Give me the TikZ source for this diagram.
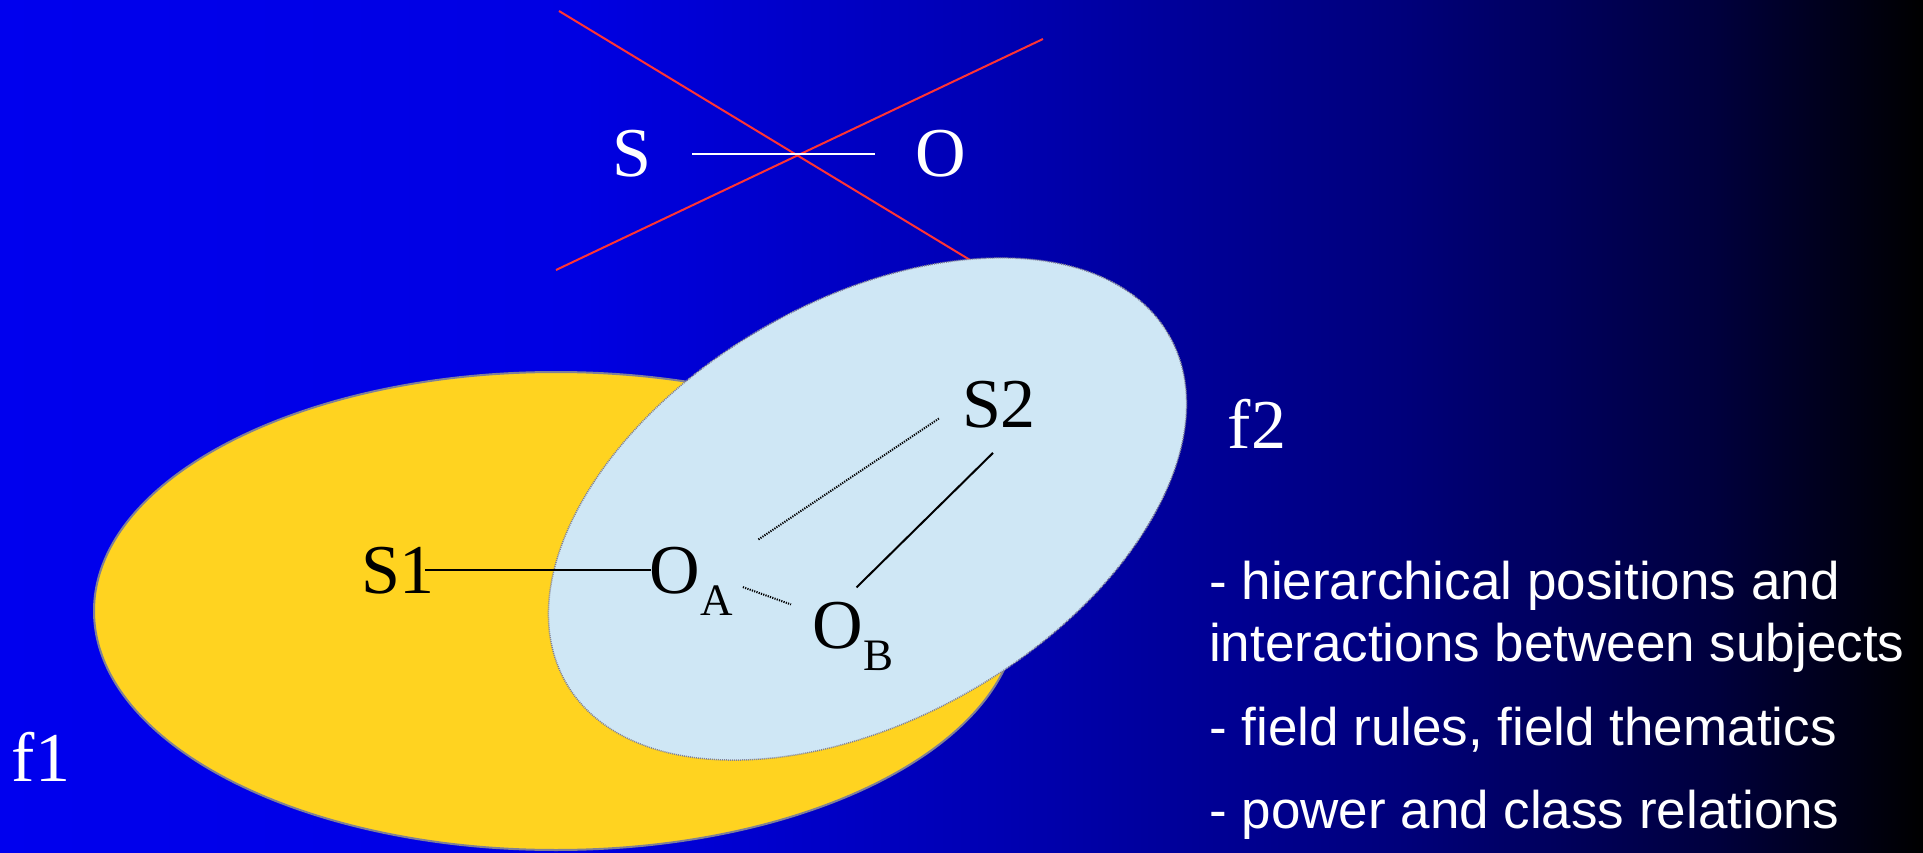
\documentclass[tikz,border=0pt]{standalone}
\usepackage{fontspec}
\setmainfont{Liberation Serif}
\newfontfamily\arialf{Liberation Sans}
\definecolor{bgA}{RGB}{0,0,238}
\definecolor{bgB}{RGB}{0,0,226}
\definecolor{bgC}{RGB}{0,0,178}
\definecolor{bgD}{RGB}{0,0,122}
\definecolor{bgE}{RGB}{0,0,62}
\definecolor{bgF}{RGB}{0,0,0}
\definecolor{fyellow}{RGB}{255,211,32}
\definecolor{flblue}{RGB}{207,231,245}
\definecolor{edgegray}{RGB}{128,128,150}
\definecolor{crossred}{RGB}{255,51,51}
\pgfdeclarehorizontalshading{bgshade}{100bp}{color(0bp)=(bgA); color(25bp)=(bgA); color(40bp)=(bgB); color(51bp)=(bgC); color(61.5bp)=(bgD); color(69.5bp)=(bgE); color(75bp)=(bgF); color(100bp)=(bgF)}
\begin{document}
\begin{tikzpicture}[x=1pt,y=-1pt,
  big/.style={inner sep=0pt, font=\fontsize{70}{84}\selectfont},
  small/.style={inner sep=0pt, font=\fontsize{45}{54}\selectfont},
  wtxt/.style={big, text=white, anchor=base},
  btxt/.style={big, text=black, anchor=base},
  rtxt/.style={inner sep=0pt, anchor=base west, text=white, font=\arialf\fontsize{53}{63}\selectfont},
  link/.style={draw=black, line width=2pt},
  dotlink/.style={draw=black, line width=2pt, dash pattern=on 1.2pt off 1.2pt},
  cross/.style={draw=crossred, line width=2pt},
  field1/.style={fill=fyellow, draw=edgegray, line width=2pt},
  field2/.style={fill=flblue, draw=edgegray, line width=1.5pt, dash pattern=on 1pt off 1pt}]
\shade[shading=bgshade] (0,0) rectangle (1923,853);
\useasboundingbox (0,0) rectangle (1923,853);
% crossed-out S--O relation
\draw[cross] (559,11) -- (975,263);
\draw[cross] (1043,39) -- (556,270);
% fields
\draw[field1] (556,611) ellipse [x radius=462pt, y radius=239pt];
\draw[field2, rotate around={30:(867.5,509)}] (867.5,509) ellipse [x radius=348pt, y radius=209pt];
% top S -- O
\node[wtxt] (S) at (632,177) {S};
\node[wtxt] (O) at (941,177) {O};
\draw[white, line width=2pt] ([xshift=40.5pt]S.east) -- ([xshift=-41pt]O.west);
% inner nodes
\node[btxt] (S1) at (398,593) {S1};
\node[btxt, anchor=base west] (OA) at (649,593) {O};
\node[small, anchor=base west] (OAs) at ([yshift=-22pt]OA.base east) {A};
\node[btxt, anchor=base west] (OB) at (812,648) {O};
\node[small, anchor=base west] (OBs) at ([yshift=-22pt]OB.base east) {B};
\node[btxt] (S2) at (999,427) {S2};
\draw[link] ([xshift=-10pt]S1.east) -- ([xshift=2pt]OA.west);
\draw[dotlink] ([xshift=58.5pt,yshift=7pt]OA.north east) -- ([xshift=-22pt,yshift=10pt]S2.south west);
\draw[dotlink] ([xshift=10pt,yshift=-2pt]OAs.north east) -- ([xshift=-21pt,yshift=-3pt]OB.north west);
\draw[link] ([xshift=-6.5pt,yshift=14pt]OB.north east) -- ([xshift=-6pt,yshift=-25pt]S2.south);
% field labels
\node[wtxt] (f1) at (41,781) {f1};
\node[wtxt] (f2) at (1257,448) {f2};
% right text
\node[rtxt] (t1) at (1209,599) {- hierarchical positions and};
\node[rtxt] (t2) at (1209,661) {interactions between subjects};
\node[rtxt] (t3) at (1209,745) {- field rules, field thematics};
\node[rtxt] (t4) at (1209,828) {- power and class relations};
\end{tikzpicture}
\end{document}
